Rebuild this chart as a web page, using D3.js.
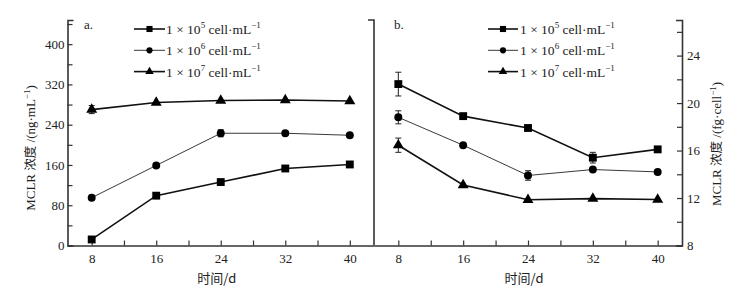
<!DOCTYPE html>
<html>
<head>
<meta charset="utf-8">
<script src="https://cdn.jsdelivr.net/npm/d3@7"></script>
<style>
  body { margin: 0; background: #fff; }
  svg text { font-family: "Liberation Serif", "Noto Serif CJK SC", "Noto Sans CJK SC", serif; fill: #222; }
</style>
</head>
<body>
<svg width="753" height="295"></svg>
<script>
// days on x axis
const DAYS = [8, 16, 24, 32, 40];

// panel a: MCLR ng/mL
const A_1E5 = [12, 99, 126, 153, 161];
const A_1E6 = [95, 159, 223, 223, 219];
const A_1E7 = [270, 284, 288, 289, 287];
const A_ERR_1E5 = [0, 0, 0, 0, 0];
const A_ERR_1E6 = [0, 0, 7, 0, 0];
const A_ERR_1E7 = [8, 0, 0, 0, 0];

// panel b: MCLR fg/cell
const B_1E5 = [21.6, 18.9, 17.9, 15.4, 16.1];
const B_1E6 = [18.8, 16.45, 13.9, 14.4, 14.2];
const B_1E7 = [16.45, 13.1, 11.85, 11.95, 11.87];
const B_ERR_1E5 = [1.0, 0.15, 0, 0.45, 0];
const B_ERR_1E6 = [0.55, 0, 0.4, 0, 0];
const B_ERR_1E7 = [0.6, 0, 0, 0, 0];

const SERIES_EXP = ['5', '6', '7'];

const svg = d3.select('svg');
const BOTTOM = 245.5, TOP = 20;

// SCALES
const xA = d3.scaleLinear().domain([5, 43]).range([67.5, 374]);
const xB = d3.scaleLinear().domain([5, 43]).range([374, 682]);
const yA = d3.scaleLinear().domain([0, 448]).range([BOTTOM, TOP]);
const yB = d3.scaleLinear().domain([8, 27]).range([BOTTOM, TOP]);

const styles = [
  { shape: d3.symbolSquare, size: 62, width: 1.6, color: '#111' },
  { shape: d3.symbolCircle, size: 50, width: 0.9, color: '#222' },
  { shape: d3.symbolTriangle, size: 52, width: 1.6, color: '#111' },
];

function axisStyle(g) {
  g.selectAll('path.domain').attr('stroke', '#333').attr('stroke-width', 1.6);
  g.selectAll('line').attr('stroke', '#333').attr('stroke-width', 1.2);
  g.selectAll('text').style('font-size', '13px').attr('fill', '#222');
  // drop empty labels of minor ticks
  g.selectAll('.tick text').filter(function () { return this.textContent === ''; }).remove();
}

// X AXES
[xA, xB].forEach(x => {
  const g = svg.append('g').attr('transform', `translate(0,${BOTTOM})`);
  g.call(d3.axisBottom(x).tickValues(d3.range(8, 41, 4)).tickSize(-5).tickSizeOuter(0)
      .tickFormat(d => DAYS.includes(d) ? d : '').tickPadding(8));
  axisStyle(g);
  svg.append('text').attr('x', (x.range()[0] + x.range()[1]) / 2 - 4).attr('y', 283)
    .attr('text-anchor', 'middle').style('font-size', '13px')
    .style('font-family', '"Noto Sans CJK SC", "Liberation Serif", sans-serif')
    .text('时间/d');
});

// LEFT Y AXIS
const gyA = svg.append('g').attr('transform', `translate(${xA.range()[0]},0)`);
gyA.call(d3.axisLeft(yA).tickValues(d3.range(0, 441, 40)).tickSize(-5).tickSizeOuter(-6)
  .tickFormat(d => d % 80 === 0 ? d : '').tickPadding(4));
axisStyle(gyA);
gyA.selectAll('.tick text').attr('x', -3);

// MIDDLE SEPARATOR
const gMid = svg.append('g').attr('transform', `translate(${xB.range()[0]},0)`);
gMid.call(d3.axisRight(yB).tickValues([]).tickSizeOuter(6));
axisStyle(gMid);
gMid.selectAll('path.domain').attr('d', `M-6,${TOP}H0V${BOTTOM}`);

// RIGHT Y AXIS
const gyB = svg.append('g').attr('transform', `translate(${xB.range()[1]},0)`);
gyB.call(d3.axisRight(yB).tickValues(d3.range(8, 27, 2)).tickSize(-5).tickSizeOuter(-6)
  .tickFormat(d => d % 4 === 0 ? d : '').tickPadding(4));
axisStyle(gyB);
gyB.selectAll('.tick text').attr('x', 5);

// Y AXIS TITLES
function yTitle(cx, cy, unit) {
  const t = svg.append('text').attr('transform', `translate(${cx},${cy}) rotate(-90)`)
    .attr('text-anchor', 'middle').style('font-size', '13px');
  t.append('tspan').text('MCLR ');
  t.append('tspan').style('font-family', '"Noto Sans CJK SC", sans-serif').style('font-size', '12.5px').text('浓度');
  t.append('tspan').text(' /(' + unit[0] + '·' + unit[1]);
  t.append('tspan').attr('dy', -5).style('font-size', '9px').text('−1');
  t.append('tspan').attr('dy', 5).text(')');
}
yTitle(35, 148, ['ng', 'mL']);
yTitle(721, 144, ['fg', 'cell']);

// PANEL LETTERS
svg.append('text').attr('x', 84).attr('y', 29).style('font-size', '13px').text('a.');
svg.append('text').attr('x', 394).attr('y', 29).style('font-size', '13px').text('b.');

// DATA SERIES
function drawSeries(x, y, values, errs, st) {
  const data = DAYS.map((d, i) => ({ d, v: values[i], e: errs[i] }));
  const g = svg.append('g');
  g.append('path').datum(data)
    .attr('fill', 'none').attr('stroke', st.color).attr('stroke-width', st.width)
    .attr('d', d3.line().x(p => x(p.d)).y(p => y(p.v)));
  const eb = g.selectAll('.err').data(data.filter(p => p.e > 0)).enter().append('g');
  eb.append('line').attr('x1', p => x(p.d)).attr('x2', p => x(p.d))
    .attr('y1', p => y(p.v - p.e)).attr('y2', p => y(p.v + p.e));
  eb.append('line').attr('x1', p => x(p.d) - 3).attr('x2', p => x(p.d) + 3)
    .attr('y1', p => y(p.v + p.e)).attr('y2', p => y(p.v + p.e));
  eb.append('line').attr('x1', p => x(p.d) - 3).attr('x2', p => x(p.d) + 3)
    .attr('y1', p => y(p.v - p.e)).attr('y2', p => y(p.v - p.e));
  eb.selectAll('line').attr('stroke', '#222').attr('stroke-width', 1);
  g.selectAll('.pt').data(data).enter().append('path')
    .attr('d', d3.symbol().type(st.shape).size(st.size))
    .attr('transform', p => `translate(${x(p.d)},${y(p.v)})`)
    .attr('fill', '#000');
}

[[A_1E5, A_ERR_1E5], [A_1E6, A_ERR_1E6], [A_1E7, A_ERR_1E7]]
  .forEach((s, i) => drawSeries(xA, yA, s[0], s[1], styles[i]));
[[B_1E5, B_ERR_1E5], [B_1E6, B_ERR_1E6], [B_1E7, B_ERR_1E7]]
  .forEach((s, i) => drawSeries(xB, yB, s[0], s[1], styles[i]));

// LEGENDS
function legend(x0, x1, tx) {
  SERIES_EXP.forEach((e, i) => {
    const cy = 29 + i * 21.3;
    const st = styles[i];
    svg.append('line').attr('x1', x0).attr('x2', x1).attr('y1', cy).attr('y2', cy)
      .attr('stroke', st.color).attr('stroke-width', st.width);
    svg.append('path').attr('d', d3.symbol().type(st.shape).size(st.size * 0.6))
      .attr('transform', `translate(${(x0 + x1) / 2},${cy})`).attr('fill', '#000');
    const t = svg.append('text').attr('x', tx).attr('y', cy + 5).style('font-size', '13.5px');
    t.append('tspan').text('1 × 10');
    t.append('tspan').attr('dy', -6).style('font-size', '9px').text(e);
    t.append('tspan').attr('dy', 6).text(' cell·mL');
    t.append('tspan').attr('dy', -6).style('font-size', '9px').text('−1');
  });
}
legend(134, 165, 166);
legend(488, 518, 520);
</script>
</body>
</html>
